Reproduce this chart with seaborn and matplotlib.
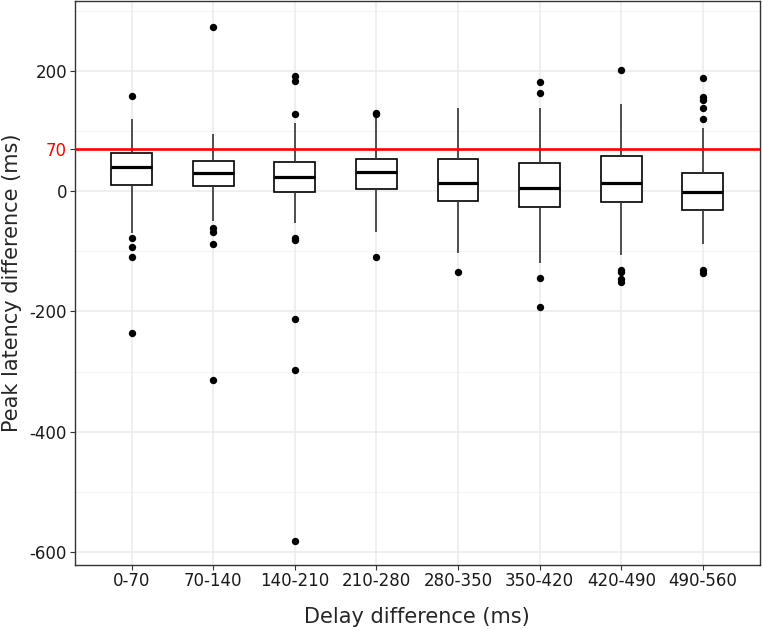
import matplotlib
matplotlib.use("Agg")
import matplotlib.pyplot as plt
import pandas as pd
import seaborn as sns

# Box summaries (ms)
categories = ["0-70", "70-140", "140-210", "210-280",
              "280-350", "350-420", "420-490", "490-560"]
whisker_low = [-70, -49, -53, -67, -102, -119, -106, -88]
q1 = [10, 9, -1, 3, -17, -26, -18, -31]
median = [41, 30, 24, 32, 13, 6, 14, -1]
q3 = [63, 51, 49, 53, 54, 47, 59, 31]
whisker_high = [120, 95, 113, 124, 139, 138, 145, 106]

# Outliers per category
outliers = [
    [158, -78, -92, -109, -235],
    [274, -61, -68, -88, -314],
    [192, 184, 128, -77, -81, -212, -297, -582],
    [131, 128, -109],
    [-134],
    [181, 164, -145, -193],
    [202, -131, -135, -146, -151],
    [188, 156, 152, 138, 121, -131, -136],
]

threshold = 70

# long-form tables for seaborn
box_rows = []
for i, cat in enumerate(categories):
    for v in (whisker_low[i], q1[i], median[i], q3[i], whisker_high[i]):
        box_rows.append({"delay": cat, "latency": v})
box_df = pd.DataFrame(box_rows)

out_rows = [{"delay": cat, "latency": v}
            for cat, vals in zip(categories, outliers) for v in vals]
out_df = pd.DataFrame(out_rows)

sns.set_theme(style="white")
plt.rcParams['font.family'] = ['DejaVu Sans']

fig = plt.figure(figsize=(7.62, 6.29), dpi=100)
ax = fig.add_axes([0.0978, 0.1025, 0.8996, 0.8959])

# grid
for y in [-500, -300, -100, 100, 300]:
    ax.axhline(y, color="#F2F2F2", lw=0.6, zorder=0)
for y in [-600, -400, -200, 0, 200]:
    ax.axhline(y, color="#EBEBEB", lw=1.1, zorder=0)
for x in range(len(categories)):
    ax.axvline(x, color="#EBEBEB", lw=1.1, zorder=0)

sns.boxplot(data=box_df, x="delay", y="latency", order=categories,
            whis=(0, 100), width=0.5, color="white", linecolor="black",
            linewidth=1.2, showcaps=False, showfliers=False,
            medianprops={"linewidth": 2.3, "color": "black"},
            whiskerprops={"color": "#333333"}, ax=ax, zorder=2)

sns.stripplot(data=out_df, x="delay", y="latency", order=categories,
              jitter=False, color="black", size=5.3, ax=ax, zorder=3)

ax.axhline(threshold, color="red", lw=1.9, zorder=4)

ax.set_xlim(-0.7, len(categories) - 0.3)
ax.set_ylim(-621, 316.5)
ax.set_yticks([-600, -400, -200, 0, threshold, 200])
ax.set_yticklabels(["-600", "-400", "-200", "0", "70", "200"])

ax.tick_params(axis="both", labelsize=12, length=3.5, width=0.8,
               color="#333333", labelcolor="#1A1A1A", left=True, bottom=True, pad=2)
ax.get_yticklabels()[4].set_color("red")

for s in ax.spines.values():
    s.set_color("#333333")
    s.set_linewidth(1.0)

ax.set_xlabel("Delay difference (ms)", fontsize=15, labelpad=12)
ax.set_ylabel("Peak latency difference (ms)", fontsize=15, labelpad=5)

fig.savefig("out.png", dpi=100)
plt.close(fig)
